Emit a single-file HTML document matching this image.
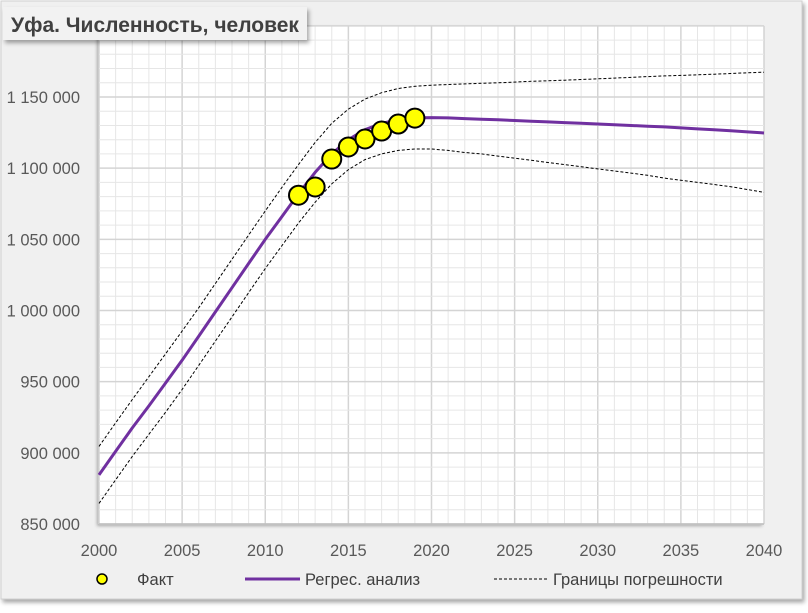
<!DOCTYPE html>
<html><head><meta charset="utf-8"><style>
body{margin:0;background:#fff;width:808px;height:608px;overflow:hidden;font-family:"Liberation Sans",sans-serif}
</style></head><body>
<svg id="c" width="808" height="608">
<defs>
<filter id="sh" x="-10%" y="-10%" width="130%" height="140%"><feDropShadow dx="2" dy="3" stdDeviation="2" flood-color="#000" flood-opacity="0.35"/></filter>
<filter id="sh2" x="-5%" y="-5%" width="110%" height="110%"><feDropShadow dx="-2" dy="2" stdDeviation="1.5" flood-color="#000" flood-opacity="0.3"/></filter>
</defs>
<rect x="1" y="1" width="801" height="598" fill="#f0f0f0" stroke="#d0d0d0" filter="url(#sh)"/>
<rect x="99" y="25.8" width="665" height="498.2" fill="#fff" filter="url(#sh2)"/>
<g id="grid"></g><g id="axes"></g><g id="series"></g>
<rect x="3" y="7" width="304" height="33" fill="#f2f2f2" filter="url(#sh)"/>
<text x="11" y="32" font-size="21" font-weight="bold" fill="#404040">Уфа. Численность, человек</text>
<g font-size="16.5" fill="#404040">
<circle cx="102" cy="579" r="5" fill="#ffff00" stroke="#000" stroke-width="1.5"/>
<text x="137" y="585">Факт</text>
<line x1="245" y1="579" x2="300" y2="579" stroke="#7030a0" stroke-width="3"/>
<text x="305" y="585">Регрес. анализ</text>
<line x1="494" y1="579" x2="547" y2="579" stroke="#000" stroke-width="1" stroke-dasharray="3,2"/>
<text x="553" y="585">Границы погрешности</text>
</g>
</svg>
<script>
const years=[];for(let y=2000;y<=2040;y++)years.push(y);
const factYears=[2012,2013,2014,2015,2016,2017,2018,2019];
const factValues=[1081000,1086800,1106400,1114900,1120500,1126100,1131000,1135200];
const regValues=[884500,901000,917500,933000,949000,965000,982000,999000,1016000,1033000,1050000,1066000,1082000,1097000,1110000,1120000,1127000,1131500,1134000,1135300,1135500,1135300,1134800,1134300,1134000,1133500,1133000,1132500,1132000,1131500,1131000,1130500,1130000,1129500,1129000,1128300,1127600,1127000,1126300,1125500,1124700];
const upperValues=[904500,921000,937500,953500,969500,985500,1002000,1019000,1036000,1053000,1070000,1086500,1102500,1118000,1131500,1141500,1148500,1153000,1156000,1157500,1158300,1158800,1159200,1159600,1160000,1160500,1161000,1161400,1161800,1162300,1162800,1163300,1163800,1164300,1164800,1165200,1165600,1166000,1166500,1167000,1167400];
const lowerValues=[864500,881000,897500,913000,928500,944500,961500,978500,995500,1012500,1029500,1045500,1061500,1076000,1089000,1099000,1106000,1110000,1112500,1113500,1113500,1112500,1111000,1110000,1108500,1107000,1105500,1104000,1102500,1101000,1099500,1098000,1096500,1095000,1093000,1091500,1090000,1088500,1087000,1085000,1083000];
const yTicks=[850000,900000,950000,1000000,1050000,1100000,1150000];
const xTicks=[2000,2005,2010,2015,2020,2025,2030,2035,2040];
const X0=99,X1=764,Y0=524,YMIN=850000,YMAX=1200000,XMIN=2000,XMAX=2040;
const pxPerUnit=(524-97)/300000;
const sx=v=>X0+(v-XMIN)/(XMAX-XMIN)*(X1-X0);
const sy=v=>Y0-(v-YMIN)*pxPerUnit;
const NS='http://www.w3.org/2000/svg';
function mk(t,a,p){const e=document.createElementNS(NS,t);for(const k in a)e.setAttribute(k,a[k]);p.appendChild(e);return e;}
const grid=document.getElementById('grid'),axes=document.getElementById('axes'),ser=document.getElementById('series');
const plotTop=sy(YMAX);
for(let y=XMIN;y<=XMAX;y++){const maj=y%5==0;const l=mk('line',{x1:sx(y),x2:sx(y),y1:plotTop,y2:Y0,stroke:maj?'#d4d4d4':'#e6e6e6','stroke-width':maj?1.5:1},grid);

}
for(let v=YMIN;v<=YMAX;v+=10000){const maj=v%50000==0;const l=mk('line',{x1:X0,x2:X1,y1:sy(v),y2:sy(v),stroke:maj?'#d4d4d4':'#e6e6e6','stroke-width':maj?1.5:1},grid);

}
mk('line',{x1:X0,x2:X1,y1:Y0,y2:Y0,stroke:'#bfbfbf','stroke-width':1.5},grid);
yTicks.forEach(v=>{const t=mk('text',{x:80,y:sy(v)+6,'text-anchor':'end','font-size':16.5,fill:'#595959'},axes);t.textContent=v.toLocaleString('en').replace(/,/g,' ');

});
xTicks.forEach(v=>{const t=mk('text',{x:sx(v),y:556,'text-anchor':'middle','font-size':16.5,fill:'#595959'},axes);t.textContent=v;

});
const path=vals=>vals.map((v,i)=>(i?'L':'M')+sx(years[i]).toFixed(1)+','+sy(v).toFixed(1)).join('');
const up=mk('path',{d:path(upperValues),fill:'none',stroke:'#000','stroke-width':1,'stroke-dasharray':'3,2'},ser);


const lo=mk('path',{d:path(lowerValues),fill:'none',stroke:'#000','stroke-width':1,'stroke-dasharray':'3,2'},ser);


const rg=mk('path',{d:path(regValues),fill:'none',stroke:'#7030a0','stroke-width':3,'stroke-linejoin':'round'},ser);


factYears.forEach((y,i)=>{const c=mk('circle',{cx:sx(y),cy:sy(factValues[i]),r:9.5,fill:'#ffff00',stroke:'#000','stroke-width':2},ser);

});
</script>
</body></html>
